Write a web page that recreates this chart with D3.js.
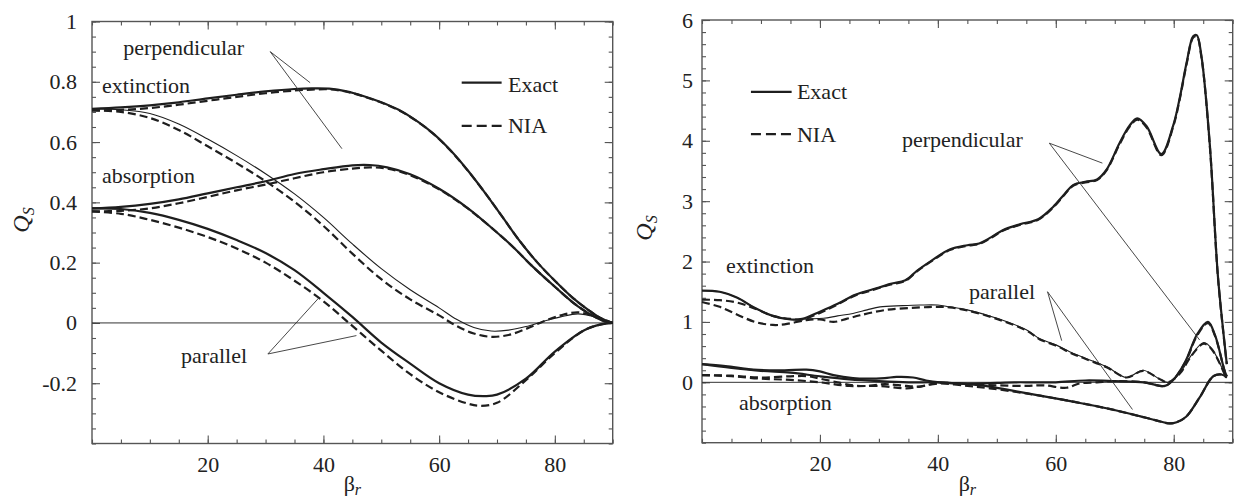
<!DOCTYPE html>
<html>

<head>
  <meta charset="utf8">
  <script src="https://d3js.org/d3.v7.min.js"></script>
  <style>
    body { margin: 0; background: #fff; }
    text { font-family: "Liberation Serif", "DejaVu Serif", "Times New Roman", serif; fill: #222; }
    .tick text { font-size: 22px; font-family: "Liberation Serif", "DejaVu Serif", serif; }
    .tick line { stroke: #555; stroke-width: 1.1; }
    .frame { fill: none; stroke: #555; stroke-width: 1.4; }
    .curve { fill: none; stroke: #1e1e1e; stroke-width: 2.2; }
    .nia { stroke-dasharray: 8, 4; }
    .thin { stroke-width: 1.1; }
    .zero { stroke: #333; stroke-width: 1; }
    .pointer { stroke: #333; stroke-width: 0.9; }
    .note { font-size: 22px; }
  </style>
</head>

<body>
  <svg id="chart" width="1237" height="502"></svg>
  <script>
    // ---- ticks ----
    var xTicks = [20, 40, 60, 80];
    var leftYTicks = [-0.2, 0, 0.2, 0.4, 0.6, 0.8, 1];
    var leftYLabels = ['-0.2', '0', '0.2', '0.4', '0.6', '0.8', '1'];
    var rightYTicks = [0, 1, 2, 3, 4, 5, 6];
    var rightYLabels = ['0', '1', '2', '3', '4', '5', '6'];

    // ---- left panel data: [beta_r, Q_S] ----
    var leftPerpExtExact = [[0, 0.71], [5, 0.715], [10, 0.722], [15, 0.732], [20, 0.745], [25, 0.757], [30, 0.768], [35, 0.776], [38, 0.778], [41, 0.777], [44, 0.768], [47, 0.752], [50, 0.732], [53, 0.707], [56, 0.672], [59, 0.628], [62, 0.572], [65, 0.505], [68, 0.43], [71, 0.35], [74, 0.27], [77, 0.2], [80, 0.14], [83, 0.085], [86, 0.04], [88, 0.015], [90, 0]];
    var leftPerpExtNia = [[0, 0.705], [5, 0.707], [10, 0.713], [15, 0.724], [20, 0.737], [25, 0.75], [30, 0.762], [35, 0.771], [38, 0.774], [41, 0.775], [44, 0.767], [47, 0.751], [50, 0.731], [53, 0.706], [56, 0.671], [59, 0.627], [62, 0.571], [65, 0.504], [68, 0.43], [71, 0.35], [74, 0.27], [77, 0.2], [80, 0.14], [83, 0.085], [86, 0.04], [88, 0.015], [90, 0]];
    var leftPerpAbsExact = [[0, 0.38], [5, 0.385], [10, 0.395], [15, 0.41], [20, 0.43], [25, 0.45], [30, 0.47], [35, 0.494], [40, 0.51], [45, 0.523], [48, 0.524], [51, 0.516], [55, 0.493], [60, 0.445], [65, 0.38], [70, 0.3], [73, 0.248], [76, 0.19], [80, 0.12], [84, 0.055], [88, 0.01], [90, 0]];
    var leftPerpAbsNia = [[0, 0.37], [5, 0.372], [10, 0.38], [15, 0.397], [20, 0.418], [25, 0.44], [30, 0.459], [35, 0.48], [40, 0.5], [45, 0.512], [48, 0.516], [51, 0.512], [55, 0.49], [60, 0.443], [65, 0.379], [70, 0.3], [73, 0.248], [76, 0.19], [80, 0.12], [84, 0.055], [88, 0.01], [90, 0]];
    var leftParExtExact = [[0, 0.71], [5, 0.707], [10, 0.695], [15, 0.66], [20, 0.61], [25, 0.555], [30, 0.495], [35, 0.428], [40, 0.35], [45, 0.262], [50, 0.18], [55, 0.11], [60, 0.05], [63, 0.012], [66, -0.015], [69, -0.027], [72, -0.024], [75, -0.012], [78, 0.005], [81, 0.02], [84, 0.03], [87, 0.02], [90, 0]];
    var leftParExtNia = [[0, 0.705], [5, 0.7], [10, 0.68], [15, 0.64], [20, 0.586], [25, 0.53], [30, 0.47], [35, 0.402], [40, 0.322], [45, 0.23], [50, 0.145], [55, 0.078], [60, 0.025], [63, -0.01], [66, -0.035], [69, -0.046], [72, -0.04], [75, -0.02], [78, 0.005], [81, 0.025], [84, 0.035], [87, 0.022], [90, 0]];
    var leftParAbsExact = [[0, 0.38], [5, 0.378], [10, 0.365], [15, 0.342], [20, 0.312], [25, 0.275], [30, 0.232], [35, 0.175], [40, 0.1], [45, 0.02], [50, -0.065], [55, -0.135], [60, -0.2], [65, -0.238], [68, -0.243], [70, -0.238], [75, -0.185], [80, -0.095], [85, -0.025], [88, -0.005], [90, 0]];
    var leftParAbsNia = [[0, 0.37], [5, 0.362], [10, 0.342], [15, 0.316], [20, 0.285], [25, 0.247], [30, 0.2], [35, 0.14], [40, 0.072], [45, -0.01], [50, -0.092], [55, -0.17], [60, -0.23], [65, -0.268], [67, -0.275], [70, -0.265], [75, -0.19], [80, -0.1], [85, -0.025], [88, -0.005], [90, 0]];

    // ---- right panel data ----
    var rightPerpExtExact = [[0, 1.52], [3, 1.5], [6, 1.4], [9, 1.23], [12, 1.1], [15, 1.04], [17, 1.05], [20, 1.17], [23, 1.3], [26, 1.45], [29, 1.54], [32, 1.63], [34.5, 1.69], [36.5, 1.85], [39, 2.02], [42, 2.2], [45, 2.27], [47, 2.3], [49, 2.4], [51, 2.52], [54, 2.62], [57, 2.7], [59.5, 2.9], [61.5, 3.12], [63, 3.27], [65, 3.32], [67, 3.36], [68.6, 3.52], [70.8, 3.96], [72.5, 4.25], [73.8, 4.37], [75.4, 4.24], [77.9, 3.78], [79.9, 4.25], [81, 4.7], [82.2, 5.3], [83.3, 5.73], [83.9, 5.75], [84.7, 5.4], [86.1, 3.96], [87.5, 1.75], [88.8, 0.48], [89, 0.3]];
    var rightPerpExtNia = [[0, 1.37], [3, 1.36], [6, 1.32], [9, 1.22], [12, 1.1], [15, 1.05], [17, 1.04], [20, 1.15], [23, 1.29], [26, 1.44], [29, 1.53], [32, 1.62], [34.5, 1.68], [36.5, 1.84], [39, 2.01], [42, 2.19], [45, 2.26], [47, 2.29], [49, 2.39], [51, 2.51], [54, 2.61], [57, 2.69], [59.5, 2.89], [61.5, 3.11], [63, 3.26], [65, 3.31], [67, 3.35], [68.6, 3.51], [70.8, 3.94], [72.5, 4.23], [73.8, 4.35], [75.4, 4.22], [77.9, 3.76], [79.9, 4.23], [81, 4.68], [82.2, 5.28], [83.3, 5.71], [83.9, 5.73], [84.7, 5.38], [86.1, 3.94], [87.5, 1.74], [88.8, 0.47], [89, 0.3]];
    var rightParExtExact = [[0, 1.52], [3, 1.5], [6, 1.4], [9, 1.23], [12, 1.1], [15, 1.04], [18, 1.05], [20.6, 1.06], [23, 1.1], [25.6, 1.14], [28, 1.2], [30.2, 1.25], [34, 1.27], [37, 1.28], [40, 1.28], [42, 1.25], [45, 1.2], [50, 1.06], [55, 0.87], [57.3, 0.72], [60, 0.62], [62.9, 0.48], [65, 0.4], [68.6, 0.26], [72, 0.08], [74.8, 0.2], [77.5, 0.06], [79, 0.0], [81, 0.15], [83, 0.45], [85.1, 0.66], [86.5, 0.55], [88.9, 0.07]];
    var rightParExtNia = [[0, 1.33], [3, 1.25], [6, 1.12], [9, 1.0], [12, 0.95], [14, 0.96], [17.7, 1.03], [20, 1.04], [22.3, 1.0], [24.5, 1.05], [26.8, 1.11], [31.3, 1.2], [37, 1.24], [40, 1.25], [42, 1.24], [45, 1.19], [50, 1.05], [55, 0.86], [57.3, 0.71], [60, 0.61], [62.9, 0.47], [65, 0.39], [68.6, 0.25], [72, 0.08], [74.8, 0.19], [77.5, 0.06], [79, 0.0], [81, 0.14], [83, 0.44], [85.1, 0.64], [86.5, 0.54], [88.9, 0.07]];
    var rightPerpAbsExact = [[0, 0.3], [4, 0.27], [8.7, 0.21], [14, 0.2], [17.7, 0.21], [20, 0.18], [22.3, 0.12], [25.6, 0.07], [28, 0.06], [31, 0.07], [33, 0.09], [35.8, 0.08], [38, 0.03], [40.3, 0.0], [45, -0.02], [50, -0.01], [53, 0.0], [56, 0.0], [60, 0.0], [65, 0.03], [70, 0.02], [75, 0.0], [78.5, -0.06], [80, 0.05], [82, 0.35], [84, 0.8], [85.8, 1.0], [87, 0.78], [88.6, 0.2], [89, 0.1]];
    var rightPerpAbsNia = [[0, 0.12], [5, 0.11], [10, 0.08], [15, 0.1], [18, 0.1], [20, 0.06], [23, 0.0], [25.6, -0.05], [28, -0.06], [31, -0.03], [34.7, -0.06], [37, -0.07], [40, -0.01], [45, -0.03], [50, -0.05], [55, -0.06], [58, -0.05], [61.8, -0.09], [64, -0.02], [67, 0.0], [70, 0.02], [75, 0.0], [78.5, -0.06], [80, 0.05], [82, 0.34], [84, 0.78], [85.8, 0.98], [87, 0.77], [88.6, 0.2], [89, 0.1]];
    var rightParAbsExact = [[0, 0.3], [5, 0.24], [10, 0.19], [15, 0.16], [20, 0.1], [25, 0.05], [30, 0.02], [35, 0.0], [40, 0.0], [45, -0.03], [48.8, -0.07], [53.3, -0.15], [57.3, -0.22], [62.9, -0.32], [68.6, -0.43], [74.2, -0.56], [77, -0.63], [79.3, -0.68], [80.5, -0.66], [82.1, -0.57], [84.4, -0.25], [86.7, 0.1], [88.1, 0.13], [89, 0.08]];
    var rightParAbsNia = [[0, 0.12], [5, 0.1], [10, 0.06], [15, 0.04], [20, 0.0], [25, -0.06], [30, -0.06], [34.7, -0.1], [37, -0.07], [40, -0.02], [45, -0.06], [48.8, -0.1], [53.3, -0.16], [57.3, -0.22], [62.9, -0.32], [68.6, -0.43], [74.2, -0.56], [77, -0.63], [79.3, -0.68], [80.5, -0.66], [82.1, -0.57], [84.4, -0.25], [86.7, 0.1], [88.1, 0.13], [89, 0.08]];

    var chart = d3.select('#chart');

    var panels = [
      {
        x0: 92, x1: 612.7, y0: 21.5, y1: 443.5,
        yDomain: [-0.4, 1], yMinor: d3.range(-0.4, 1.001, 0.05),
        yTicks: leftYTicks, yLabels: leftYLabels, yPad: 15, yTitleX: 29, yTitleY: 220,
        exact: [leftPerpExtExact, leftPerpAbsExact, leftParAbsExact],
        thin: [leftParExtExact],
        nia: [leftPerpExtNia, leftPerpAbsNia, leftParExtNia, leftParAbsNia],
        notes: [
          { t: 'perpendicular', b: 5.4, v: 0.89 },
          { t: 'extinction', b: 1.75, v: 0.764 },
          { t: 'absorption', b: 1.75, v: 0.465 },
          { t: 'parallel', b: 15.4, v: -0.132 }
        ],
        pointers: [
          [[30.8, 0.9], [37.7, 0.797]], [[30.8, 0.9], [43.2, 0.578]],
          [[30.4, -0.103], [39.3, 0.085]], [[30.4, -0.103], [45.7, -0.042]]
        ],
        legend: { b0: 63.9, b1: 70.8, bt: 71.9, v1: 0.797, t1: 0.767, v2: 0.654, t2: 0.631 }
      },
      {
        x0: 702, x1: 1232.7, y0: 20, y1: 442.7,
        yDomain: [-1, 6], yMinor: d3.range(-1, 6.001, 0.2),
        yTicks: rightYTicks, yLabels: rightYLabels, yPad: 9, yTitleX: 652, yTitleY: 228,
        exact: [rightPerpExtExact, rightPerpAbsExact, rightParAbsExact],
        thin: [rightParExtExact],
        nia: [rightPerpExtNia, rightParExtNia, rightPerpAbsNia, rightParAbsNia],
        notes: [
          { t: 'extinction', b: 4.07, v: 1.81 },
          { t: 'absorption', b: 6.27, v: -0.46 },
          { t: 'perpendicular', b: 33.9, v: 3.9 },
          { t: 'parallel', b: 45.3, v: 1.38 }
        ],
        pointers: [
          [[58.9, 3.96], [67.9, 3.63]], [[58.9, 3.96], [84.4, 0.7]],
          [[58.6, 1.5], [61, 0.69]], [[58.6, 1.5], [73, -0.45]]
        ],
        legend: { b0: 8.3, b1: 15.2, bt: 16.1, v1: 4.81, t1: 4.69, v2: 4.11, t2: 3.98 }
      }
    ];

    panels.forEach(function (p) {
      var x = d3.scaleLinear().domain([0, 90]).range([p.x0, p.x1]);
      var y = d3.scaleLinear().domain(p.yDomain).range([p.y1, p.y0]);
      var xMinor = d3.range(0, 90.001, 5);
      var g = chart.append('g');

      // ticks on all four sides, pointing inward
      function side(axis, tr, vals, size, fmt, pad) {
        var a = g.append('g').attr('transform', tr)
          .call(axis.tickValues(vals).tickSize(size).tickPadding(pad || 3).tickFormat(fmt || ''));
        a.select('.domain').remove();
        a.attr('font-family', null).attr('font-size', null);
        return a;
      }
      side(d3.axisBottom(x), 'translate(0,' + p.y1 + ')', xMinor, -4);
      side(d3.axisBottom(x), 'translate(0,' + p.y1 + ')', xTicks, -8, function (d) { return d; }, 13);
      side(d3.axisTop(x), 'translate(0,' + p.y0 + ')', xMinor, -4);
      side(d3.axisTop(x), 'translate(0,' + p.y0 + ')', xTicks, -8);
      side(d3.axisLeft(y), 'translate(' + p.x0 + ',0)', p.yMinor, -4);
      side(d3.axisLeft(y), 'translate(' + p.x0 + ',0)', p.yTicks, -8,
        function (d, i) { return p.yLabels[i]; }, p.yPad);
      side(d3.axisRight(y), 'translate(' + p.x1 + ',0)', p.yMinor, -4);
      side(d3.axisRight(y), 'translate(' + p.x1 + ',0)', p.yTicks, -8);

      g.append('rect').attr('class', 'frame')
        .attr('x', p.x0).attr('y', p.y0)
        .attr('width', p.x1 - p.x0).attr('height', p.y1 - p.y0);

      g.append('line').attr('class', 'zero')
        .attr('x1', x(0)).attr('x2', x(90)).attr('y1', y(0)).attr('y2', y(0));

      var line = d3.line()
        .x(function (d) { return x(d[0]); })
        .y(function (d) { return y(d[1]); })
        .curve(d3.curveCatmullRom.alpha(0.5));

      g.selectAll('.exact').data(p.exact).enter().append('path')
        .attr('class', 'curve exact').attr('d', line);
      g.selectAll('.thinline').data(p.thin).enter().append('path')
        .attr('class', 'curve thin thinline').attr('d', line);
      g.selectAll('.niapath').data(p.nia).enter().append('path')
        .attr('class', 'curve nia niapath').attr('d', line);

      g.selectAll('.pointer').data(p.pointers).enter().append('line')
        .attr('class', 'pointer')
        .attr('x1', function (d) { return x(d[0][0]); })
        .attr('y1', function (d) { return y(d[0][1]); })
        .attr('x2', function (d) { return x(d[1][0]); })
        .attr('y2', function (d) { return y(d[1][1]); });

      g.selectAll('.note').data(p.notes).enter().append('text')
        .attr('class', 'note')
        .attr('x', function (d) { return x(d.b); })
        .attr('y', function (d) { return y(d.v); })
        .text(function (d) { return d.t; });

      // legend
      var L = p.legend;
      g.append('line').attr('class', 'curve')
        .attr('x1', x(L.b0)).attr('x2', x(L.b1)).attr('y1', y(L.v1)).attr('y2', y(L.v1));
      g.append('line').attr('class', 'curve').style('stroke-dasharray', '10,5')
        .attr('x1', x(L.b0)).attr('x2', x(L.b1)).attr('y1', y(L.v2)).attr('y2', y(L.v2));
      g.append('text').attr('class', 'note').attr('x', x(L.bt)).attr('y', y(L.t1)).text('Exact');
      g.append('text').attr('class', 'note').attr('x', x(L.bt)).attr('y', y(L.t2)).text('NIA');

      // axis titles
      var yt = g.append('text')
        .attr('transform', 'translate(' + p.yTitleX + ',' + p.yTitleY + ') rotate(-90)')
        .attr('text-anchor', 'middle')
        .style('font-size', '24px').style('font-style', 'italic');
      yt.append('tspan').text('Q');
      yt.append('tspan').attr('dy', 5).style('font-size', '16px').text('S');

      var xt = g.append('text')
        .attr('x', (p.x0 + p.x1) / 2).attr('y', 491)
        .attr('text-anchor', 'middle').style('font-size', '22px');
      xt.append('tspan').text('β');
      xt.append('tspan').attr('dy', 4).style('font-size', '16px').style('font-style', 'italic').text('r');
    });
  </script>
</body>

</html>
